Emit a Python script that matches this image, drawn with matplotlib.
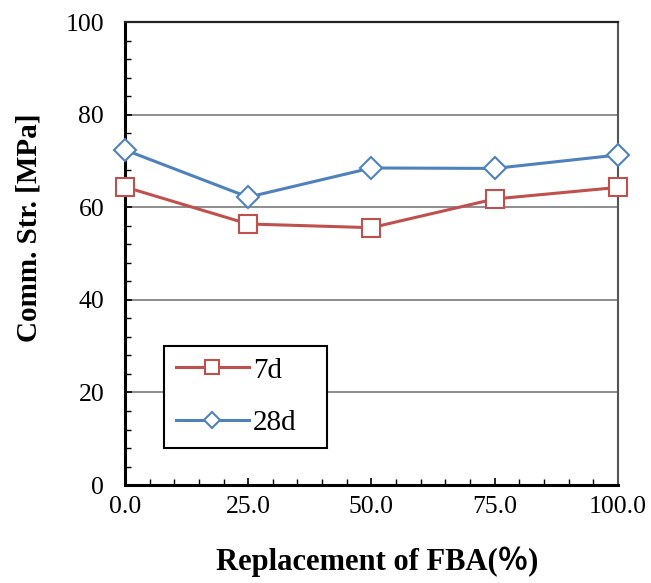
import numpy as np
import matplotlib
matplotlib.use("Agg")
import matplotlib.pyplot as plt
from matplotlib.ticker import MultipleLocator

# FBA replacement levels (%) and compressive strength (MPa)
replacement = [0.0, 25.0, 50.0, 75.0, 100.0]
str_7d = [64.4, 56.4, 55.6, 61.8, 64.3]
str_28d = [72.4, 62.2, 68.5, 68.4, 71.3]
x_ticks = [0.0, 25.0, 50.0, 75.0, 100.0]
y_ticks = [0, 20, 40, 60, 80, 100]

RED = "#C0504D"
BLUE = "#4F81BD"

plt.rcParams["font.family"] = ["Liberation Serif", "Noto Sans CJK JP"]

fig = plt.figure(figsize=(6.51, 5.83), dpi=100)
ax = fig.add_axes([0.192, 0.168, 0.757, 0.794])

ax.plot(replacement, str_7d, color=RED, lw=2.2, marker="s", ms=13,
        mfc="white", mec=RED, mew=1.5, label="7d", zorder=3, clip_on=False)
ax.plot(replacement, str_28d, color=BLUE, lw=2.2, marker="D", ms=11,
        mfc="white", mec=BLUE, mew=1.5, label="28d", zorder=3, clip_on=False)

ax.set_xlim(0, 100)
ax.set_ylim(0, 100)
ax.set_xticks(x_ticks)
ax.set_xticklabels([f"{v:.1f}" for v in x_ticks])
ax.set_yticks(y_ticks)
ax.xaxis.set_minor_locator(MultipleLocator(5))
ax.yaxis.set_minor_locator(MultipleLocator(4))
ax.tick_params(which="both", direction="in", top=False, right=False, labelsize=18.5)
ax.tick_params(axis="y", pad=15)
ax.tick_params(axis="x", pad=8)
ax.tick_params(which="major", length=5, width=1.2)
ax.tick_params(which="minor", length=4, width=1.0)

ax.grid(True, axis="y", which="major", color="#7a7a7a", lw=1.2)
ax.set_axisbelow(True)

for side in ["left", "bottom"]:
    ax.spines[side].set_linewidth(2.2)
    ax.spines[side].set_color("black")
ax.spines["top"].set_linewidth(1.6)
ax.spines["top"].set_color("#222222")
ax.spines["right"].set_linewidth(1.5)
ax.spines["right"].set_color("#555555")

ax.set_xlabel("Replacement of FBA(％)", fontsize=22, fontweight="bold")
ax.set_ylabel("Comm. Str. [MPa]", fontsize=21, fontweight="bold")
ax.xaxis.set_label_coords(0.512, -0.133)
ax.yaxis.set_label_coords(-0.168, 0.555)

leg = ax.legend(loc="lower left", bbox_to_anchor=(0.079, 0.08, 0.33, 0.218),
                mode="expand", fontsize=21, frameon=True, fancybox=False,
                edgecolor="black", framealpha=1, handlelength=2.5,
                borderpad=0.4, labelspacing=0.9, handletextpad=0.15,
                borderaxespad=0, markerscale=0.75)
leg.get_frame().set_linewidth(1.5)

fig.savefig("out.png", dpi=100)
